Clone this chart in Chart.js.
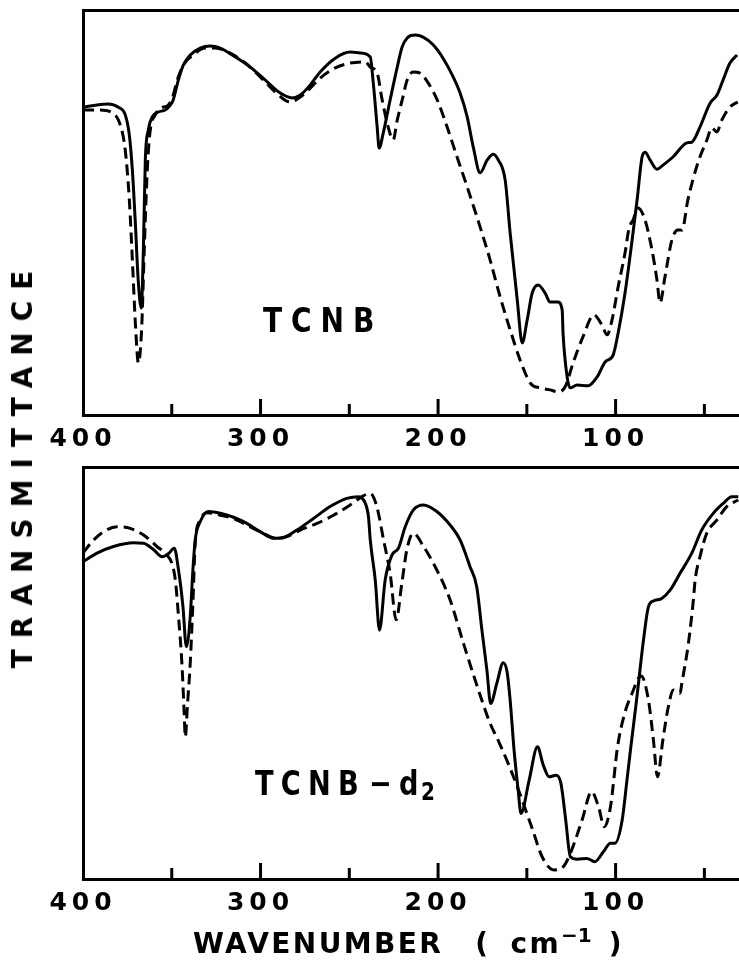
<!DOCTYPE html>
<html>
<head>
<meta charset="utf-8">
<script src="https://cdn.jsdelivr.net/npm/chart.js@4.4.1/dist/chart.umd.min.js"></script>
<style>
  body { margin: 0; width: 739px; height: 961px; overflow: hidden; background: #fff; font-family: 'DejaVu Sans', sans-serif; font-weight: bold; color: #000; }
  .panel { position: absolute; left: 0; }
  .lbl { position: absolute; white-space: nowrap; line-height: 1; }
</style>
</head>
<body>
<div class="panel" style="top:0"><canvas id="topChart" width="739" height="470"></canvas></div>
<div class="panel" style="top:455px"><canvas id="botChart" width="739" height="506"></canvas></div>

<div class="lbl" style="left:263px; top:304px; font-size:33px; letter-spacing:10.5px; transform:scaleX(0.85); transform-origin:left top;">TCNB</div>
<div class="lbl" style="left:255px; top:766px; font-size:34px; letter-spacing:9px; transform:scaleX(0.8); transform-origin:left top;">TCNB<span style="margin-left:4px;">−</span>d<span style="font-size:25px; position:relative; top:5px; margin-left:-6px;">2</span></div>
<div class="lbl" style="left:23px; top:464px; font-size:28px; letter-spacing:11px; transform:translate(-50%,-50%) rotate(-90deg);">TRANSMITTANCE</div>
<div class="lbl" style="left:193px; top:930px; font-size:28px; letter-spacing:2.4px;">WAVENUMBER<span style="margin-left:32px;">(</span><span style="margin-left:20px;">cm</span><span style="font-size:20px; position:relative; top:-11px; letter-spacing:0;">−1</span><span style="margin-left:17px;">)</span></div>

<script>
// x axis (wavenumber, cm-1)
const xLabels = [400, 300, 200, 100];
const majorTicks = [300, 200, 100];
const minorTicks = [350, 250, 150, 50];

// TCNB, solid trace
const tcnbSolidWn = [400, 393.1, 385.8, 380.1, 376.2, 373.9, 372.2, 370.6, 368.9, 367.2, 366.0, 364.9, 363.2, 361.0, 357.6, 353.7, 350.8, 349.2, 346.3, 343.5, 339.6, 334.0, 328.3, 322.7, 314.2, 305.8, 297.3, 288.9, 282.1, 277.6, 272.0, 266.4, 257.9, 249.5, 243.9, 238.2, 236.5, 234.3, 233.2, 230.9, 227.0, 223.0, 220.2, 217.4, 212.9, 208.4, 202.8, 197.2, 191.5, 187.6, 183.6, 180.2, 176.3, 172.3, 168.9, 166.1, 162.2, 159.4, 155.4, 152.6, 149.8, 147.0, 143.6, 139.7, 136.9, 132.4, 130.1, 129.6, 127.3, 125.6, 121.7, 115.5, 110.4, 105.9, 101.4, 98.6, 94.7, 90.7, 87.9, 85.1, 83.4, 80.6, 76.7, 73.3, 67.7, 59.8, 57.0, 52.5, 46.8, 42.9, 39.5, 35.6, 31.6];
const tcnbSolidT = [76.0, 76.5, 76.8, 76.0, 74.1, 69.1, 60.5, 48.1, 33.3, 26.4, 40.7, 63.0, 70.4, 73.6, 74.8, 75.3, 76.5, 77.8, 82.7, 86.4, 88.9, 90.6, 91.1, 90.6, 88.4, 85.9, 82.7, 79.5, 78.3, 79.0, 81.5, 84.7, 88.1, 89.6, 89.4, 88.4, 82.0, 71.1, 65.9, 69.6, 77.8, 85.9, 90.9, 93.1, 93.8, 93.3, 91.4, 88.1, 83.5, 79.5, 73.6, 66.2, 59.8, 63.0, 64.4, 63.0, 58.0, 44.9, 28.4, 17.8, 23.5, 30.1, 32.1, 30.1, 27.9, 27.9, 25.9, 20.2, 9.4, 6.7, 7.4, 7.2, 9.4, 13.1, 14.8, 20.2, 30.1, 43.2, 53.1, 63.7, 64.9, 63.0, 60.7, 61.7, 63.7, 67.2, 67.4, 71.1, 77.0, 79.0, 82.7, 86.9, 88.9];

// TCNB, dashed trace
const tcnbDashWn = [400, 390.3, 383.5, 379.0, 376.2, 373.9, 372.2, 370.3, 368.8, 367.0, 365.5, 363.8, 362.1, 359.3, 356.5, 352.5, 349.7, 346.9, 343.5, 337.9, 331.1, 325.5, 318.2, 308.6, 300.2, 291.8, 283.3, 277.6, 272.0, 266.4, 257.9, 249.5, 241.0, 238.2, 234.3, 231.5, 228.1, 225.3, 223.0, 220.2, 217.4, 214.0, 210.1, 205.6, 200.5, 194.9, 189.3, 183.6, 176.3, 170.7, 165.0, 159.4, 153.8, 148.1, 142.5, 136.9, 132.4, 128.5, 124.0, 118.4, 112.2, 107.7, 104.8, 102.0, 98.6, 94.7, 92.4, 90.2, 87.4, 83.4, 79.5, 76.7, 75.0, 72.2, 68.3, 64.9, 62.6, 59.3, 53.7, 48.6, 45.8, 43.0, 40.2, 35.7, 31.2];
const tcnbDashT = [75.3, 75.3, 74.6, 71.6, 65.4, 53.1, 38.3, 21.0, 12.8, 21.0, 40.7, 60.5, 70.4, 74.1, 75.8, 76.3, 78.3, 82.7, 86.4, 88.9, 90.6, 90.6, 89.6, 86.9, 83.5, 79.8, 77.3, 78.5, 80.7, 83.2, 85.7, 86.9, 87.2, 85.9, 84.4, 77.8, 71.1, 67.9, 72.8, 77.8, 82.7, 84.7, 84.4, 82.0, 77.8, 71.1, 63.7, 56.3, 46.4, 38.3, 29.1, 21.0, 13.6, 7.9, 6.7, 6.2, 5.7, 6.9, 12.8, 19.3, 24.7, 22.2, 19.8, 23.5, 31.6, 40.0, 46.2, 48.1, 51.1, 48.1, 40.7, 33.3, 27.7, 34.1, 43.2, 45.7, 45.7, 53.1, 62.2, 67.9, 70.9, 69.9, 72.8, 76.0, 77.3];

// TCNB-d2, solid trace
const tcnbd2SolidWn = [400, 392.1, 382.8, 371.5, 365.9, 360.2, 355.5, 351.8, 348.6, 346.2, 343.7, 341.8, 339.6, 338.1, 336.8, 334.0, 329.3, 322.7, 315.2, 307.7, 300.2, 292.7, 287.0, 279.5, 270.2, 260.8, 251.4, 244.8, 241.0, 239.2, 238.2, 235.4, 233.0, 229.8, 226.0, 222.3, 218.5, 213.9, 208.2, 200.7, 193.2, 187.6, 182.0, 178.2, 175.3, 172.5, 170.4, 166.9, 163.3, 161.1, 159.4, 157.2, 154.9, 153.3, 148.7, 144.0, 140.8, 137.4, 133.5, 130.8, 128.1, 125.5, 121.5, 116.2, 111.7, 106.9, 102.9, 100.3, 96.3, 93.6, 91.3, 88.2, 84.3, 81.5, 78.7, 74.0, 69.3, 63.7, 57.1, 51.5, 44.9, 39.3, 34.6, 30.9];
const tcnbd2SolidT = [77.0, 79.1, 80.7, 81.6, 81.5, 79.9, 78.2, 79.0, 80.3, 75.0, 66.1, 56.4, 63.7, 75.0, 82.3, 86.7, 89.2, 88.8, 87.8, 86.3, 84.3, 82.7, 82.9, 84.7, 87.5, 90.4, 92.4, 92.8, 91.2, 87.9, 82.3, 72.6, 60.4, 72.6, 78.6, 80.3, 85.5, 89.6, 90.8, 89.2, 85.9, 82.3, 75.8, 70.9, 60.4, 50.7, 42.6, 47.5, 52.5, 50.2, 43.4, 31.3, 21.6, 15.9, 24.0, 32.1, 27.7, 24.8, 25.2, 23.2, 14.3, 5.4, 4.8, 5.0, 4.2, 6.6, 8.7, 8.7, 14.3, 24.0, 32.5, 43.4, 58.0, 66.1, 67.5, 68.1, 70.1, 74.2, 79.1, 84.7, 88.8, 91.2, 92.8, 92.8];

// TCNB-d2, dashed trace
const tcnbd2DashWn = [400, 394.9, 388.4, 380.9, 373.4, 365.9, 358.3, 352.7, 349.9, 348.0, 346.2, 344.3, 343.0, 342.4, 341.1, 339.6, 338.1, 336.8, 334.0, 330.2, 322.7, 315.2, 307.7, 300.2, 290.8, 285.1, 277.6, 268.2, 258.9, 249.5, 242.9, 238.2, 234.5, 230.7, 227.0, 223.6, 220.4, 217.6, 213.9, 208.2, 200.7, 193.2, 185.7, 178.6, 170.7, 166.2, 160.0, 154.7, 146.7, 141.4, 134.7, 129.4, 125.5, 118.9, 113.5, 109.6, 106.4, 102.9, 98.9, 94.9, 90.9, 85.6, 81.5, 78.7, 76.4, 73.4, 70.3, 67.5, 63.7, 62.7, 59.0, 56.2, 55.2, 52.5, 48.7, 43.0, 37.4, 30.9];
const tcnbd2DashT = [79.1, 81.9, 84.3, 85.5, 85.1, 83.5, 80.7, 78.6, 76.6, 72.6, 63.7, 52.4, 40.2, 34.5, 42.6, 52.4, 66.9, 81.5, 87.1, 88.9, 88.3, 87.5, 85.9, 84.3, 82.7, 83.1, 84.7, 86.3, 88.3, 90.8, 92.8, 93.6, 90.4, 82.3, 74.2, 62.9, 71.8, 79.9, 83.9, 80.7, 75.0, 67.7, 57.2, 47.6, 37.8, 33.7, 27.5, 21.6, 11.9, 5.4, 2.2, 3.0, 6.2, 14.3, 21.2, 17.5, 12.7, 17.5, 32.1, 40.2, 44.9, 49.3, 43.4, 33.7, 24.8, 33.7, 41.8, 45.9, 45.1, 47.5, 57.2, 67.7, 72.6, 78.2, 83.9, 87.1, 90.4, 92.0];

function pairs(xs, ys) {
    return xs.map((x, i) => ({ x: x, y: ys[i] }));
}

// inward tick marks on the bottom axis
const inTicks = {
    id: 'inTicks',
    beforeDraw(chart) {
        chart.ctx.letterSpacing = '5px';
    },
    afterDraw(chart) {
        const { ctx, chartArea, scales } = chart;
        const x = scales.x;
        ctx.save();
        ctx.strokeStyle = '#000';
        ctx.lineWidth = 3;
        const mark = (v, len) => {
            const px = x.getPixelForValue(v);
            ctx.beginPath();
            ctx.moveTo(px, chartArea.bottom);
            ctx.lineTo(px, chartArea.bottom - len);
            ctx.stroke();
        };
        majorTicks.forEach(v => mark(v, 16));
        minorTicks.forEach(v => mark(v, 11));
        ctx.restore();
    }
};

function makePanel(id, solid, dashed, padTop, padBottom) {
    const axisLine = { display: true, color: '#000', width: 3 };
    const noGrid = { display: true, drawOnChartArea: false, drawTicks: false };
    new Chart(document.getElementById(id).getContext('2d'), {
        type: 'line',
        data: {
            datasets: [
                {
                    data: dashed,
                    borderColor: '#000',
                    borderWidth: 3,
                    borderDash: [11, 6],
                    pointRadius: 0,
                    cubicInterpolationMode: 'monotone',
                    fill: false
                },
                {
                    data: solid,
                    borderColor: '#000',
                    borderWidth: 3,
                    pointRadius: 0,
                    cubicInterpolationMode: 'monotone',
                    fill: false
                }
            ]
        },
        options: {
            responsive: false,
            animation: false,
            layout: { padding: { left: 83, right: 0, top: padTop, bottom: padBottom } },
            plugins: { legend: { display: false }, tooltip: { enabled: false } },
            scales: {
                x: {
                    type: 'linear',
                    position: 'bottom',
                    reverse: true,
                    min: 30.5,
                    max: 400,
                    afterBuildTicks: s => { s.ticks = xLabels.map(v => ({ value: v })); },
                    afterFit: s => { s.height = 45; },
                    ticks: {
                        color: '#000',
                        padding: 9,
                        maxRotation: 0,
                        autoSkip: false,
                        font: { family: 'DejaVu Sans', size: 25, weight: 'bold' }
                    },
                    grid: noGrid,
                    border: axisLine
                },
                xTop: {
                    type: 'linear',
                    axis: 'x',
                    position: 'top',
                    reverse: true,
                    min: 30.5,
                    max: 400,
                    afterFit: s => { s.height = 0; },
                    ticks: { display: false },
                    grid: noGrid,
                    border: axisLine
                },
                y: {
                    type: 'linear',
                    min: 0,
                    max: 100,
                    afterFit: s => { s.width = 0; },
                    ticks: { display: false },
                    grid: noGrid,
                    border: axisLine
                }
            }
        },
        plugins: [inTicks]
    });
}

makePanel('topChart', pairs(tcnbSolidWn, tcnbSolidT), pairs(tcnbDashWn, tcnbDashT), 10, 10);
makePanel('botChart', pairs(tcnbd2SolidWn, tcnbd2SolidT), pairs(tcnbd2DashWn, tcnbd2DashT), 12, 37);
</script>
</body>
</html>
